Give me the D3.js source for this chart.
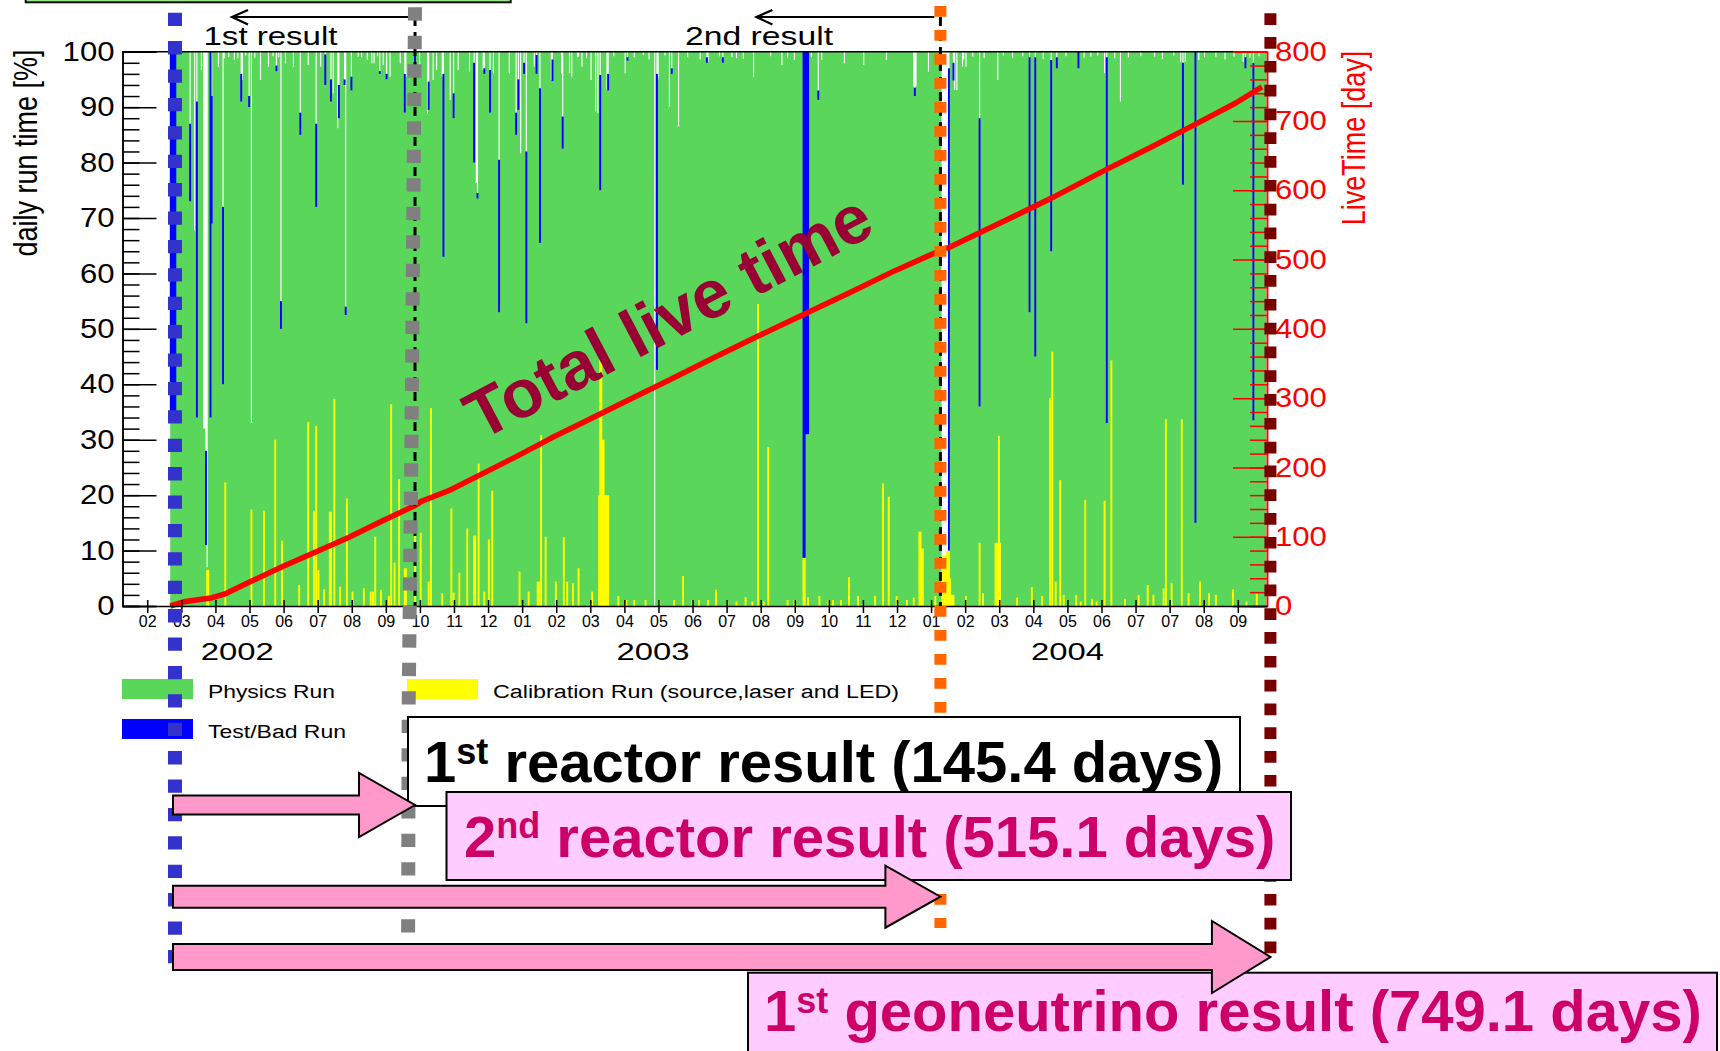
<!DOCTYPE html>
<html>
<head>
<meta charset="utf-8">
<script src="https://cdn.jsdelivr.net/npm/d3@7"></script>
<style>
  html, body { margin: 0; padding: 0; background: #fff; }
  svg { display: block; font-family: "Liberation Sans", Arial, Helvetica, sans-serif; }
</style>
</head>
<body>
<div id="chart"></div>
<script>
// day numbers count from 2002-01-01 (= day 0)
const firstRunDay = 62;   // 2002-03-04, start of data taking
const lastRunDay = 1026;
const firstTickDay = 41.8;
const tickStepDays = 30;

const xTickLabels = ['02', '03', '04', '05', '06', '07', '08', '09', '10', '11', '12',
  '01', '02', '03', '04', '05', '06', '07', '08', '09', '10', '11', '12',
  '01', '02', '03', '04', '05', '06', '07', '07', '08', '09'];

const yearLabels = [['2002', 121], ['2003', 487], ['2004', 852]];

// calibration run time [day, % of day]
const calibRuns = [
  [94, 6.5], [95, 6.5], [110, 22.3], [133, 17.4], [144, 17.2], [154, 30], [160, 11.8], [175, 3.8],
  [183, 33.2], [188, 17.2], [190, 32.5], [192, 6.5], [197, 3], [202, 17], [203, 17], [206, 37.3],
  [211, 3.5], [217, 19.4], [222, 2.6], [232, 3.2], [238, 2.6], [240, 2.6], [242, 12.5], [247, 2.9],
  [254, 1.8], [256, 36.4], [259, 7.8], [263, 22.9], [268, 6.8], [269, 6.8], [277, 15.8], [282, 13.2],
  [289, 4.4], [291, 35.7], [301, 2.3], [309, 17.6], [311, 2.4], [316, 6], [323, 14], [329, 12.7],
  [330, 12.7], [333, 25.7], [338, 2.6], [342, 12], [345, 20.8], [369, 6.2], [377, 2.6], [385, 4.4],
  [386, 4.4], [388, 30.8], [392, 12.5], [401, 4.4], [408, 12.4], [411, 4.4], [416, 4.1], [421, 6.8],
  [433, 2.6], [439, 20], [440, 47], [441, 44], [442, 30], [443, 30], [444, 20], [445, 20], [446, 20],
  [447, 20], [456, 1.8], [463, 1.1], [470, 1.1], [480, 1.1], [492, 1.1], [505, 1.1], [513, 5.4],
  [521, 1.1], [527, 1.1], [535, 1.1], [542, 2.9], [552, 0.8], [560, 0.8], [568, 1.6], [574, 0.8],
  [579, 54.5], [584, 0.8], [588, 28.7], [605, 1.1], [611, 1.1], [619, 8.7], [620, 8.7], [623, 1.6],
  [633, 1.8], [641, 1.1], [645, 1.1], [652, 1.1], [659, 5.2], [667, 1.8], [682, 1.8], [689, 22.1],
  [694, 19.7], [701, 1.8], [710, 1.1], [716, 1.5], [721, 13.4], [722, 13.4], [723, 10.4], [724, 10.4],
  [735, 1.8], [741, 9], [742, 9], [743, 9], [744, 9], [745, 9.8], [746, 9.8], [747, 10], [748, 5],
  [749, 2], [750, 2], [751, 2], [762, 1.8], [774, 11.4], [777, 2.3], [788, 11.4], [789, 11.4],
  [790, 11.4], [791, 30.7], [792, 11.4], [807, 1.5], [820, 3.4], [829, 1.8], [836, 37.5], [838, 45.9],
  [841, 4.4], [845, 22.7], [848, 2], [859, 2], [863, 0.8], [867, 19.1], [873, 1.3], [877, 0.8],
  [884, 19], [890, 44.3], [902, 1.3], [914, 2], [922, 3.8], [927, 2], [936, 3.2], [938, 33.7],
  [943, 4.1], [952, 33.7], [958, 2.3], [968, 4.4], [976, 2.3], [982, 2], [997, 3], [1009, 0.8],
  [1018, 2.3]
];

// test / bad run time [day, from %, to %]
const badRuns = [
  [62, 35, 100], [63, 35, 100], [64, 35, 100], [65, 35, 100], [66, 35, 100],
  [79, 73, 87], [85, 34, 91], [93, 11, 28], [97, 34, 100], [98, 69, 92], [108, 40, 72],
  [124, 91, 96], [131, 90, 92], [155, 96.5, 97.5], [159, 50, 55], [176, 85, 89], [190, 72, 87],
  [198, 94, 99.5], [203, 91, 95], [210, 88, 94], [215, 94, 95], [216, 52.5, 54], [221, 93, 95.5],
  [246, 96, 96.5], [252, 95, 96], [268, 89, 96], [277, 94, 100], [289, 89.5, 94.6], [302, 63, 96],
  [311, 88, 92.5], [329, 80, 98], [332, 73.5, 74.5], [338, 96, 97], [343, 89, 96.7], [351, 53, 80.5],
  [366, 85, 89], [368, 89.5, 95], [373, 96, 98], [375, 51, 82], [384, 96, 99.4], [387, 65.5, 93.4],
  [398, 94.7, 98.6], [407, 82.5, 88.3], [440, 75, 95.8], [447, 93, 96], [464, 98.4, 99],
  [490, 42.6, 96], [503, 96, 97], [534, 98, 99], [548, 98, 99], [619, 8.7, 100], [620, 8.7, 100],
  [621, 31, 100], [622, 31, 100], [623, 31, 100], [632, 91.3, 93], [717, 92, 93.5], [747, 10, 97],
  [751, 94.8, 98], [774, 36, 88], [818, 53, 99], [823, 45, 99], [837, 64, 98.5], [842, 97, 99],
  [861, 97, 100], [886, 33, 99], [953, 76, 98], [964, 15, 100], [1008, 97, 99], [1015, 33.5, 98]
];

// days whose total run time stayed below 100 % [day, total %]
const runTimeDips = [
  [83, 67.8], [89, 96.7], [91, 32], [92, 32], [94, 7], [104, 97.3], [109, 98.8], [113, 99],
  [118, 98.5], [121, 98.8], [125, 94.9], [128, 99.3], [133, 33], [136, 98.9], [141, 94.9], [148, 97.3],
  [152, 99.2], [157, 99], [163, 97.9], [170, 97.3], [183, 97.6], [194, 97.3], [205, 92.5], [209, 86.2],
  [227, 99.1], [230, 99], [235, 98.5], [239, 97.9], [241, 97.9], [244, 99.2], [249, 97.6], [255, 95.5],
  [264, 97.9], [269, 95.5], [281, 97.3], [288, 88.9], [293, 94.9], [296, 96.7], [301, 95.5], [308, 91.3],
  [315, 96.7], [325, 96.4], [331, 76.3], [337, 96.7], [346, 96.1], [360, 96.1], [370, 81.7], [382, 97.3],
  [397, 94.9], [406, 96.1], [413, 96.1], [415, 95.5], [420, 99], [421, 99.1], [424, 97.3], [428, 98.8],
  [432, 94.9], [436, 89.2], [438, 88.9], [446, 93.1], [452, 99.2], [462, 96.1], [470, 99], [478, 99.4],
  [483, 98.6], [488, 0], [491, 95.2], [497, 99.3], [501, 90.1], [509, 86.5], [517, 99], [528, 98.6],
  [535, 98.2], [545, 99.2], [556, 99], [560, 98.8], [566, 98.7], [575, 95.5], [590, 99.2], [600, 97.6],
  [605, 98.9], [611, 98.5], [626, 99.1], [635, 98.5], [655, 97.9], [672, 97.6], [692, 98.5], [716, 93.7],
  [718, 93.7], [729, 96.4], [741, 9], [742, 9], [743, 9], [744, 9], [745, 9.8], [746, 9.8], [752, 93.1],
  [754, 93.1], [759, 97.3], [760, 98.6], [762, 97.3], [768, 99.1], [778, 98.8], [790, 94.9], [795, 99.3],
  [803, 98.9], [812, 99.2], [830, 98.7], [850, 99.2], [866, 98.9], [872, 99.1], [878, 99.3], [884, 96.1],
  [893, 98.8], [898, 91], [905, 99], [916, 99.2], [928, 99.1], [935, 98.7], [945, 99.3], [951, 98.2],
  [955, 98.2], [967, 98.5], [972, 99], [982, 99.1], [990, 98.6], [998, 99.1], [1006, 98.2], [1012, 98.9],
  [1020, 99.2]
];

// cumulative live time [day, days]
const liveTime = [
  [62, 0], [74, 6], [99, 12], [111, 18], [131, 34], [161, 57], [190, 78], [219, 99], [249, 123],
  [278, 145.4], [283, 151], [308, 167], [337, 191], [367, 216], [397, 242], [428, 267], [460, 293],
  [500, 325], [540, 358], [580, 390], [620, 421], [660, 452], [700, 484], [737, 511], [740, 515.1],
  [747, 517], [798, 557], [837, 588], [885, 629], [924, 661], [963, 694], [1000, 726], [1023, 749.1]
];

// dataset boundaries marked on the slide
const resultMarks = [
  { key: 'start', day: 66.2 },
  { key: 'reactor1', day: 277.5 },
  { key: 'reactor2', day: 740 },
  { key: 'geo1', day: 1030.5 }
];

const markStyle = {
  start:    { color: '#3333cc', width: 14, dash: '13.3 15.1', top: 12.7, bottom: 970, lean: [0, 0, 0, 0] },
  reactor1: { color: '#808080', width: 14, dash: '13.3 15.2', top: 7.3, bottom: 970, lean: [0, -3.6, -6.3, -7] },
  reactor2: { color: '#ff6600', width: 12, dash: '10.7 13.3', top: 6, bottom: 928, lean: [0, 0, 0, 0] },
  geo1:     { color: '#770000', width: 12, dash: '11.7 12.1', top: 13.3, bottom: 960, lean: [0, 0, 0, 0] }
};

const legendItems = [
  { label: 'Physics Run', color: '#5ad65a', x: 122, y: 679, len: 127 },
  { label: 'Test/Bad Run', color: '#0000ff', x: 122, y: 719, len: 138 },
  { label: 'Calibration Run (source,laser and LED)', color: '#ffff00', x: 407, y: 679, len: 406 }
];

const W = 1720, H = 1051;
const svg = d3.select('#chart').append('svg').attr('width', W).attr('height', H);

const x = d3.scaleLinear().domain([20, 1027.5]).range([122.5, 1267]);
const y = d3.scaleLinear().domain([0, 100]).range([606, 51.7]);
const yLive = d3.scaleLinear().domain([0, 800]).range([606, 51.7]);
const barW = x(1) - x(0) + 0.8;   // one day, slightly widened like the stretched original

// partly visible box at the top edge of the slide
svg.append('rect')
  .attr('x', 25.7).attr('y', -10).attr('width', 485).attr('height', 12.3)
  .attr('fill', '#99e68c').attr('stroke', '#111').attr('stroke-width', 2);

// daily table
const calibMap = new Map(calibRuns.map(d => [d[0], d[1]]));
const badMap = new Map(badRuns.map(d => [d[0], [d[1], d[2]]]));
const dipMap = new Map(runTimeDips.map(d => [d[0], d[1]]));
const daily = d3.range(firstRunDay, lastRunDay + 1).map(day => {
  const calib = calibMap.get(day) || 0;
  const bad = badMap.get(day);
  const total = dipMap.has(day) ? dipMap.get(day) : 100;
  return { day, physTop: Math.max(bad ? bad[0] : total, calib) };
});
const steps = daily.concat([Object.assign({}, daily[daily.length - 1], { day: lastRunDay + 1 })]);

const plot = svg.append('g');
plot.append('path').datum(steps)
  .attr('fill', '#5ad65a')
  .attr('d', d3.area().curve(d3.curveStepAfter)
    .x(d => x(d.day)).y0(y(0)).y1(d => y(d.physTop)));

plot.selectAll('.calib')
  .data(calibRuns)
  .join('rect')
  .attr('class', 'calib')
  .attr('x', d => x(d[0]) - 0.4)
  .attr('width', barW)
  .attr('y', d => y(d[1]))
  .attr('height', d => y(0) - y(d[1]))
  .attr('fill', '#ffff00');

plot.selectAll('.bad')
  .data(badRuns)
  .join('rect')
  .attr('class', 'bad')
  .attr('x', d => x(d[0]) - 0.4)
  .attr('width', barW)
  .attr('y', d => y(d[2]))
  .attr('height', d => y(d[1]) - y(d[2]))
  .attr('fill', '#0000ff');

// total live time
plot.append('path').datum(liveTime)
  .attr('fill', 'none')
  .attr('stroke', '#ff0000')
  .attr('stroke-width', 5.5)
  .attr('stroke-linejoin', 'round')
  .attr('d', d3.line().x(d => x(d[0])).y(d => yLive(d[1])));

// frame
svg.append('line')
  .attr('x1', x.range()[0]).attr('x2', x.range()[1])
  .attr('y1', y(100)).attr('y2', y(100))
  .attr('stroke', '#000').attr('stroke-width', 1.5);

const styleAxis = (g, color) => {
  g.attr('font-family', null).attr('font-size', null);
  g.selectAll('path, line').attr('stroke', color).attr('stroke-width', 1.5);
  g.selectAll('text').attr('fill', color);
};

// left axis
svg.append('g')
  .attr('transform', `translate(${x.range()[0]},0)`)
  .call(d3.axisLeft(y).tickValues(d3.range(0, 101, 2)).tickSize(-17).tickFormat(''))
  .call(g => styleAxis(g, '#000'));
const yAxisLeft = svg.append('g')
  .attr('transform', `translate(${x.range()[0]},0)`)
  .call(d3.axisLeft(y).tickValues(d3.range(0, 101, 10)).tickSize(-34).tickPadding(8).tickFormat(d3.format('d')))
  .call(g => styleAxis(g, '#000'));
yAxisLeft.selectAll('text')
  .attr('font-size', 27)
  .attr('textLength', d => String(d).length * 17.3)
  .attr('lengthAdjust', 'spacingAndGlyphs');

// right axis (live time)
svg.append('g')
  .attr('transform', `translate(${x.range()[1]},0)`)
  .call(d3.axisRight(yLive).tickValues(d3.range(0, 801, 20)).tickSize(-17).tickFormat(''))
  .call(g => styleAxis(g, '#ff0000'));
const yAxisRight = svg.append('g')
  .attr('transform', `translate(${x.range()[1]},0)`)
  .call(d3.axisRight(yLive).tickValues(d3.range(0, 801, 100)).tickSize(-34).tickPadding(8).tickFormat(d3.format('d')))
  .call(g => styleAxis(g, '#ff0000'));
yAxisRight.selectAll('text')
  .attr('font-size', 27)
  .attr('textLength', d => String(d).length * 17.3)
  .attr('lengthAdjust', 'spacingAndGlyphs');

// time axis
const xTickDays = xTickLabels.map((_, i) => firstTickDay + i * tickStepDays);
const xAxis = svg.append('g')
  .attr('transform', `translate(0,${y(0)})`)
  .call(d3.axisBottom(x).tickValues(xTickDays).tickFormat((d, i) => xTickLabels[i])
    .tickSizeInner(7).tickSizeOuter(0).tickPadding(3))
  .call(g => styleAxis(g, '#000'));
xAxis.selectAll('.tick line').attr('y1', -6);
xAxis.selectAll('text').attr('font-size', 16);

svg.selectAll('.year')
  .data(yearLabels)
  .join('text')
  .attr('class', 'year')
  .attr('x', d => x(d[1]))
  .attr('y', 660)
  .attr('text-anchor', 'middle')
  .attr('font-size', 24)
  .attr('textLength', 73)
  .attr('lengthAdjust', 'spacingAndGlyphs')
  .text(d => d[0]);

// axis titles (the plot image was stretched sideways on the slide)
svg.append('text')
  .attr('transform', 'translate(37,153) scale(1.2,1) rotate(-90)')
  .attr('text-anchor', 'middle')
  .attr('font-size', 27)
  .text('daily run time [%]');
svg.append('text')
  .attr('transform', 'translate(1365,138) scale(1.2,1) rotate(-90)')
  .attr('text-anchor', 'middle')
  .attr('font-size', 27)
  .attr('fill', '#ff0000')
  .text('LiveTime [day]');

// result boundaries inside the plot
[resultMarks[1], resultMarks[2]].forEach(m => {
  svg.append('line')
    .attr('x1', x(m.day)).attr('x2', x(m.day))
    .attr('y1', 17).attr('y2', y(0))
    .attr('stroke', '#000').attr('stroke-width', 3)
    .attr('stroke-dasharray', '9 6');
});

// "1st result" / "2nd result" arrows above the plot
const topLabels = [
  { text: '1st result', mark: resultMarks[1], tipX: 232, cx: 270.5, len: 134 },
  { text: '2nd result', mark: resultMarks[2], tipX: 756.4, cx: 759, len: 148 }
];
topLabels.forEach(t => {
  const x0 = x(t.mark.day) - 6;
  svg.append('line')
    .attr('x1', x0).attr('x2', t.tipX).attr('y1', 17).attr('y2', 17)
    .attr('stroke', '#000').attr('stroke-width', 2);
  svg.append('path')
    .attr('d', `M${t.tipX + 16},10 L${t.tipX},17 L${t.tipX + 16},24.5`)
    .attr('fill', 'none').attr('stroke', '#000').attr('stroke-width', 2.2);
  svg.append('text')
    .attr('x', t.cx).attr('y', 45)
    .attr('text-anchor', 'middle')
    .attr('font-size', 25)
    .attr('textLength', t.len)
    .attr('lengthAdjust', 'spacingAndGlyphs')
    .text(t.text);
});

svg.append('text')
  .attr('transform', 'translate(679,337) rotate(-27.7)')
  .attr('text-anchor', 'middle')
  .attr('font-size', 68)
  .attr('font-weight', 'bold')
  .attr('fill', '#990033')
  .text('Total live time');

// legend
const legend = svg.append('g');
legendItems.forEach(item => {
  legend.append('rect')
    .attr('x', item.x).attr('y', item.y).attr('width', 71).attr('height', 20)
    .attr('fill', item.color);
  legend.append('text')
    .attr('x', item.x + 86).attr('y', item.y + 19)
    .attr('font-size', 18)
    .attr('textLength', item.len)
    .attr('lengthAdjust', 'spacingAndGlyphs')
    .text(item.label);
});

// coloured dashed boundary lines across the slide
resultMarks.forEach(m => {
  const s = markStyle[m.key];
  const ys = [s.top, 450, 700, s.bottom];
  svg.append('path')
    .attr('d', d3.line()(ys.map((yy, i) => [x(m.day) + s.lean[i], yy])))
    .attr('fill', 'none')
    .attr('stroke', s.color)
    .attr('stroke-width', s.width)
    .attr('stroke-dasharray', s.dash);
});

// result boxes and arrows
const arrowPath = (x0, x1, yc, shaft, head, headLen) =>
  `M${x0},${yc - shaft} L${x1 - headLen},${yc - shaft} L${x1 - headLen},${yc - head} L${x1},${yc}` +
  ` L${x1 - headLen},${yc + head} L${x1 - headLen},${yc + shaft} L${x0},${yc + shaft} Z`;

const drawArrow = (endMark, yc, shaft, head, headLen) => {
  svg.append('path')
    .attr('d', arrowPath(x(resultMarks[0].day) - 2, x(endMark.day), yc, shaft, head, headLen))
    .attr('fill', '#ff99cc')
    .attr('stroke', '#000')
    .attr('stroke-width', 2);
};

const drawBox = (bx, by, bw, bh, fill, tx, ty, color, pre, sup, supDy, rest) => {
  svg.append('rect')
    .attr('x', bx).attr('y', by).attr('width', bw).attr('height', bh)
    .attr('fill', fill).attr('stroke', '#000').attr('stroke-width', 2);
  const t = svg.append('text')
    .attr('x', tx).attr('y', ty)
    .attr('font-size', 58)
    .attr('font-weight', 'bold')
    .attr('fill', color);
  t.append('tspan').text(pre);
  t.append('tspan').attr('font-size', 36).attr('dy', supDy).text(sup);
  t.append('tspan').attr('dy', -supDy).text(rest);
};

drawBox(408, 717, 832, 89, '#ffffff', 424, 782, '#000', '1', 'st', -18, ' reactor result (145.4 days)');
drawArrow(resultMarks[1], 805, 9.5, 32, 56);
drawBox(446.5, 792, 844.5, 88, '#ffccff', 464, 857, '#cc0066', '2', 'nd', -19, ' reactor result (515.1 days)');
drawArrow(resultMarks[2], 896.7, 11, 31, 55);
drawBox(748, 972.7, 969, 100, '#ffccff', 764, 1031, '#cc0066', '1', 'st', -18, ' geoneutrino result (749.1 days)');
drawArrow(resultMarks[3], 957, 13, 36, 58.5);
</script>
</body>
</html>
